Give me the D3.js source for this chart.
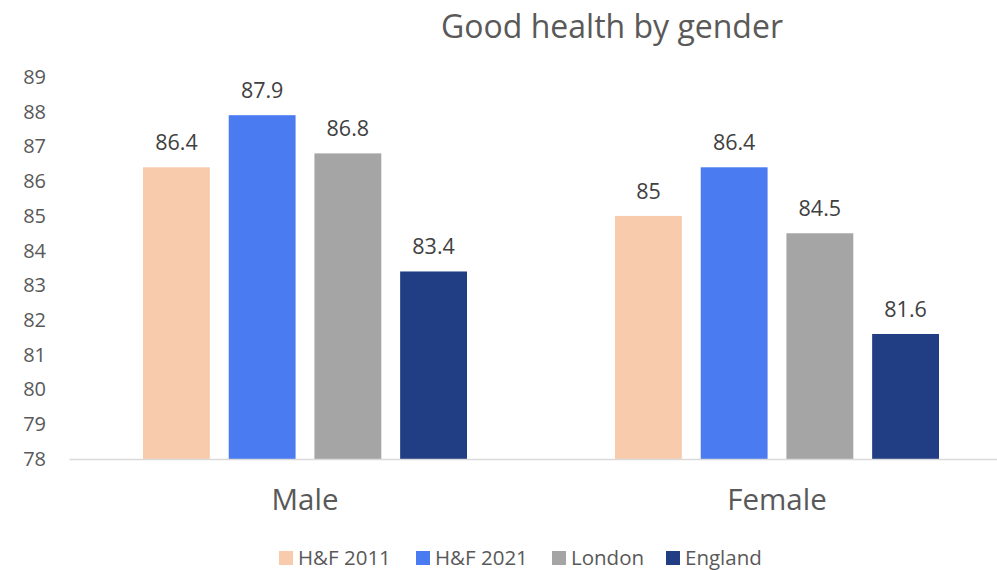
<!DOCTYPE html>
<html>
<head>
<meta charset="utf-8">
<script src="https://cdn.jsdelivr.net/npm/d3@7"></script>
<style>
  html, body { margin: 0; padding: 0; background: #fff; }
  svg { display: block; font-family: "Open Sans", "Noto Sans", sans-serif; }
</style>
</head>
<body>
<svg id="chart" width="997" height="570"></svg>
<script>
const categories = ["Male", "Female"];
const seriesNames = ["H&F 2011", "H&F 2021", "London", "England"];
const seriesColors = ["#F8CBAD", "#4A7BF0", "#A5A5A5", "#213D84"];
const hf2011 = [86.4, 85];
const hf2021 = [87.9, 86.4];
const london = [86.8, 84.5];
const england = [83.4, 81.6];
const yTicks = [78, 79, 80, 81, 82, 83, 84, 85, 86, 87, 88, 89];
const title = "Good health by gender";

const seriesValues = [hf2011, hf2021, london, england];

const svg = d3.select("#chart");

const x0 = d3.scaleBand().domain(categories).range([69, 1013]).padding(0);
const groupWidth = 324;
const x1 = d3.scaleBand().domain(seriesNames)
  .range([(x0.bandwidth() - groupWidth) / 2, (x0.bandwidth() + groupWidth) / 2])
  .paddingInner(0.22).paddingOuter(0);
const y = d3.scaleLinear().domain([78, 89]).range([459, 77]);

// Title
svg.append("text")
  .attr("x", 612).attr("y", 38)
  .attr("text-anchor", "middle")
  .attr("font-size", 32)
  .attr("fill", "#595959")
  .text(title);

// Y axis (labels only)
const yAxis = d3.axisLeft(y).tickValues(yTicks).tickSize(0).tickPadding(0).tickFormat(d3.format("d"));
const yg = svg.append("g").attr("transform", "translate(46,0)").call(yAxis);
yg.select(".domain").remove();
yg.selectAll("text").attr("font-size", 20).attr("fill", "#595959").attr("font-family", "Open Sans, sans-serif");

// Bars
const groups = svg.append("g").selectAll("g")
  .data(categories)
  .join("g")
  .attr("transform", d => `translate(${x0(d)},0)`);

categories.forEach((cat, ci) => {
  const g = groups.filter(d => d === cat);
  const data = seriesNames.map((s, si) => ({ s, si, v: seriesValues[si][ci] }));
  g.selectAll("rect").data(data).join("rect")
    .attr("x", d => x1(d.s))
    .attr("y", d => y(d.v))
    .attr("width", x1.bandwidth())
    .attr("height", d => y(78) - y(d.v))
    .attr("fill", d => seriesColors[d.si]);
  g.selectAll("text.val").data(data).join("text")
    .attr("class", "val")
    .attr("x", d => x1(d.s) + x1.bandwidth() / 2)
    .attr("y", d => y(d.v) - 17)
    .attr("text-anchor", "middle")
    .attr("font-size", 21.5)
    .attr("fill", "#404040")
    .text(d => d.v);
});

// X axis
const xAxis = d3.axisBottom(x0).tickSize(0).tickPadding(0);
const xg = svg.append("g").attr("transform", `translate(0,${y(78)})`).call(xAxis);
xg.select(".domain").attr("stroke", "#D9D9D9").attr("stroke-width", 1.5);
xg.selectAll("text").attr("font-size", 29.5).attr("fill", "#595959")
  .attr("font-family", "Open Sans, sans-serif").attr("dy", "51px");

// Legend
const legendX = [279, 416, 552, 666];
const lg = svg.append("g");
seriesNames.forEach((s, i) => {
  lg.append("rect").attr("x", legendX[i]).attr("y", 551).attr("width", 14).attr("height", 14)
    .attr("fill", seriesColors[i]);
  lg.append("text").attr("x", legendX[i] + 19).attr("y", 565)
    .attr("font-size", 20.5).attr("fill", "#595959").text(s);
});
</script>
</body>
</html>
